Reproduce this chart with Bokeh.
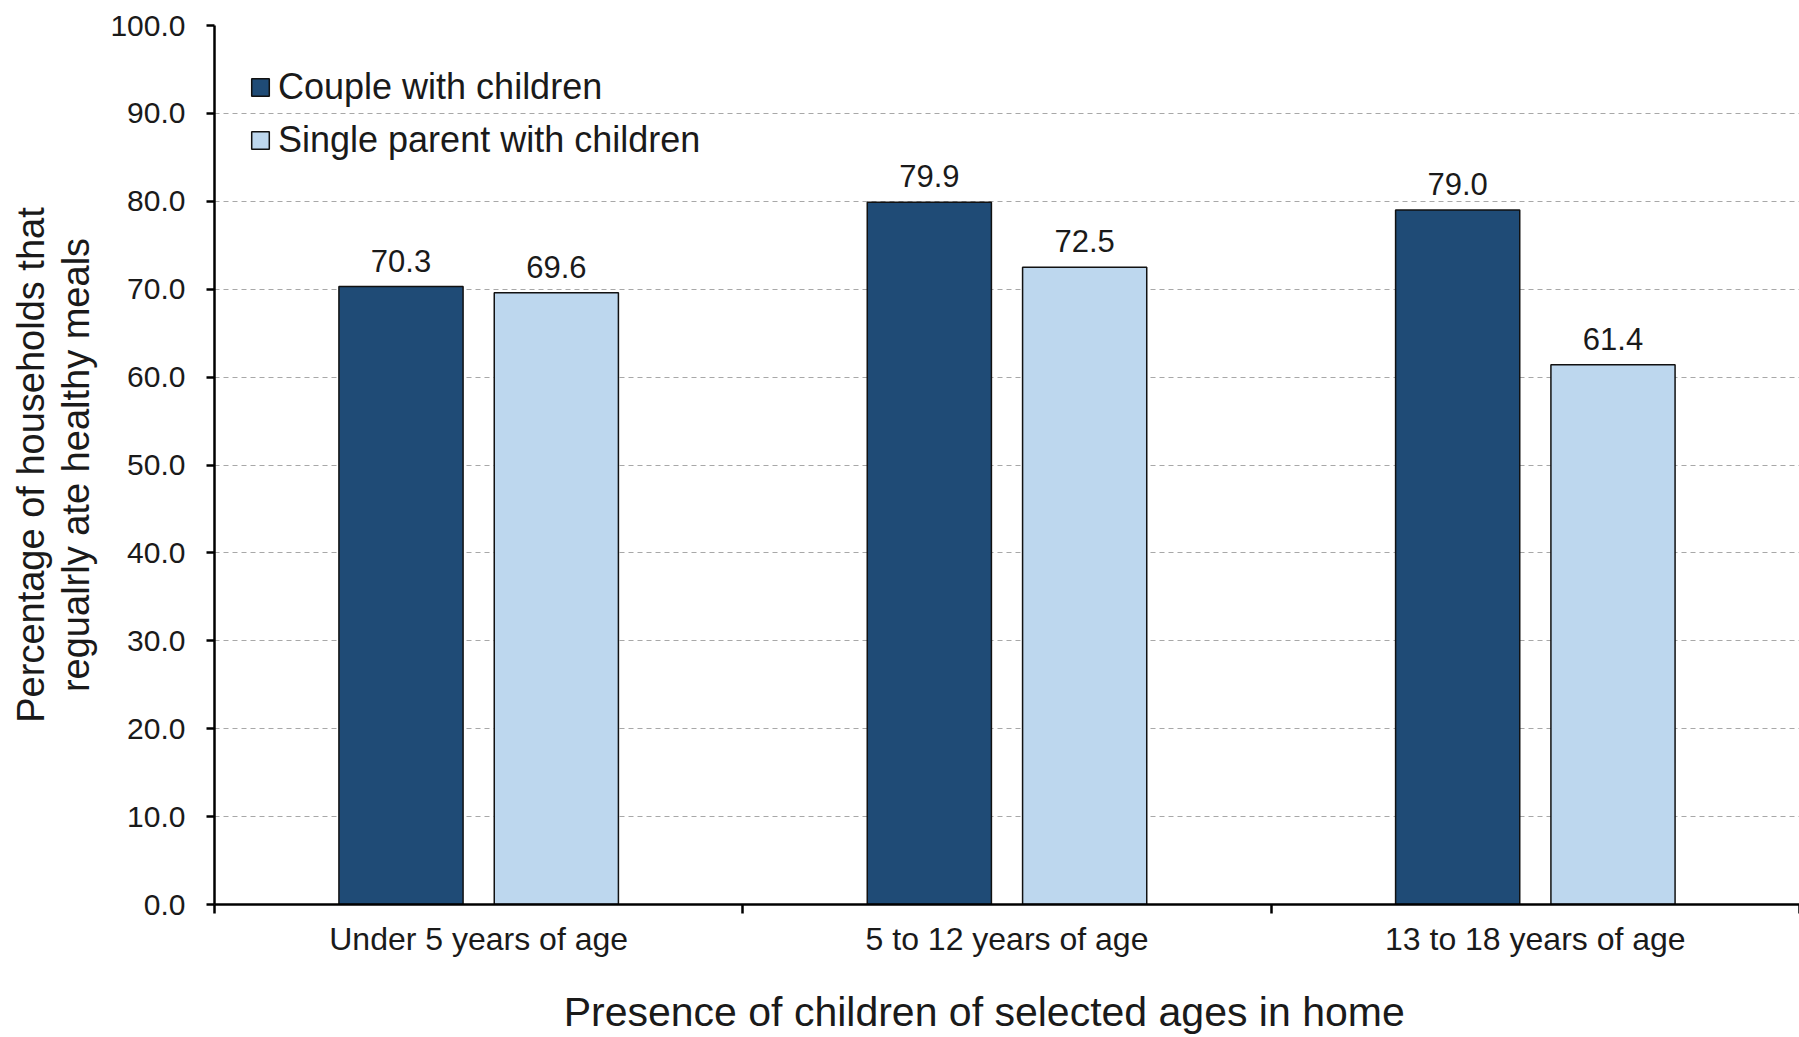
import numpy as np
from bokeh.plotting import figure
from bokeh.models import (ColumnDataSource, FixedTicker, Legend, LegendItem,
                          Range1d, PrintfTickFormatter)
from bokeh.transform import dodge
from bokeh.core.properties import value
from bokeh.embed import file_html
from bokeh.resources import INLINE

# ---- data ----
categories = ["Under 5 years of age", "5 to 12 years of age", "13 to 18 years of age"]
couple = [70.3, 79.9, 79.0]
single = [69.6, 72.5, 61.4]
series_names = ["Couple with children", "Single parent with children"]
y_ticks = [0, 10, 20, 30, 40, 50, 60, 70, 80, 90, 100]
x_title = "Presence of children of selected ages in home"
y_title = "Percentage of households that\nregualrly ate healthy meals"

FONT = "Liberation Sans"
TXT = "#1a1a1a"
DARK = "#1F4B76"
LIGHT = "#BDD7EE"
OFF = 0.147
BW = 0.235

x = np.arange(len(categories)) + 0.5
src = ColumnDataSource(dict(
    x=x, couple=couple, single=single,
    couple_lbl=[f"{v:.1f}" for v in couple],
    single_lbl=[f"{v:.1f}" for v in single],
))

p = figure(width=1799, height=1037, output_backend="svg", toolbar_location=None,
           x_range=Range1d(0, len(categories)), y_range=Range1d(0, 100),
           min_border_left=214, min_border_right=0, min_border_top=25,
           min_border_bottom=133)
p.outline_line_color = None
p.background_fill_color = "white"

r1 = p.vbar(x=dodge("x", -OFF), top="couple", width=BW, source=src,
            fill_color=DARK, line_color="#111111", line_width=1.5)
r2 = p.vbar(x=dodge("x", OFF), top="single", width=BW, source=src,
            fill_color=LIGHT, line_color="#111111", line_width=1.5)

for col, lbl, off in (("couple", "couple_lbl", -OFF), ("single", "single_lbl", OFF)):
    p.text(x=dodge("x", off), y=col, text=lbl, source=src,
           text_align="center", text_baseline="bottom", y_offset=-15,
           text_font=value(FONT), text_font_size="31px", text_color=TXT)

# x axis
xa = p.xaxis[0]
xa.ticker = FixedTicker(ticks=list(x), minor_ticks=list(range(len(categories) + 1)))
xa.major_label_overrides = {float(v): c for v, c in zip(x, categories)}
xa.major_tick_out = 0
xa.major_tick_in = 0
xa.minor_tick_out = 9
xa.minor_tick_in = 0
xa.minor_tick_line_color = "black"
xa.minor_tick_line_width = 2.5
xa.axis_line_color = "black"
xa.axis_line_width = 2.5
xa.major_label_text_font = FONT
xa.major_label_text_font_size = "32px"
xa.major_label_text_color = TXT
xa.major_label_standoff = 7
# trailing no-break spaces nudge the centred title slightly left, as in the original
xa.axis_label = x_title + "\u00a0" * 4
xa.axis_label_text_font = FONT
xa.axis_label_text_font_size = "41px"
xa.axis_label_text_font_style = "normal"
xa.axis_label_text_color = TXT
xa.axis_label_standoff = 29

# y axis
ya = p.yaxis[0]
ya.ticker = FixedTicker(ticks=y_ticks)
ya.formatter = PrintfTickFormatter(format="%.1f")
ya.major_tick_out = 8
ya.major_tick_in = 0
ya.major_tick_line_color = "black"
ya.major_tick_line_width = 2.5
ya.minor_tick_out = 0
ya.minor_tick_in = 0
ya.axis_line_color = "black"
ya.axis_line_width = 2.5
ya.major_label_text_font = FONT
ya.major_label_text_font_size = "30px"
ya.major_label_text_color = TXT
ya.major_label_standoff = 21
ya.axis_label = y_title
ya.axis_label_text_font = FONT
ya.axis_label_text_font_size = "38px"
ya.axis_label_text_font_style = "normal"
ya.axis_label_text_color = TXT
ya.axis_label_text_line_height = 1.08
ya.axis_label_standoff = 10

p.xgrid.visible = False
p.ygrid.ticker = FixedTicker(ticks=y_ticks)
p.ygrid.grid_line_color = "#a8a8a8"
p.ygrid.grid_line_dash = "5 4"
p.ygrid.grid_line_width = 1.2

legend = Legend(items=[LegendItem(label=series_names[0], renderers=[r1]),
                       LegendItem(label=series_names[1], renderers=[r2])],
                location="top_left")
legend.margin = 35
legend.padding = 6
legend.spacing = 0
legend.glyph_width = 22
legend.glyph_height = 22
legend.label_height = 53
legend.label_standoff = 7
legend.label_text_font = FONT
legend.label_text_font_size = "36px"
legend.label_text_color = TXT
legend.border_line_color = None
legend.background_fill_alpha = 0
p.add_layout(legend)

open("out.html", "w").write(file_html(p, INLINE))
